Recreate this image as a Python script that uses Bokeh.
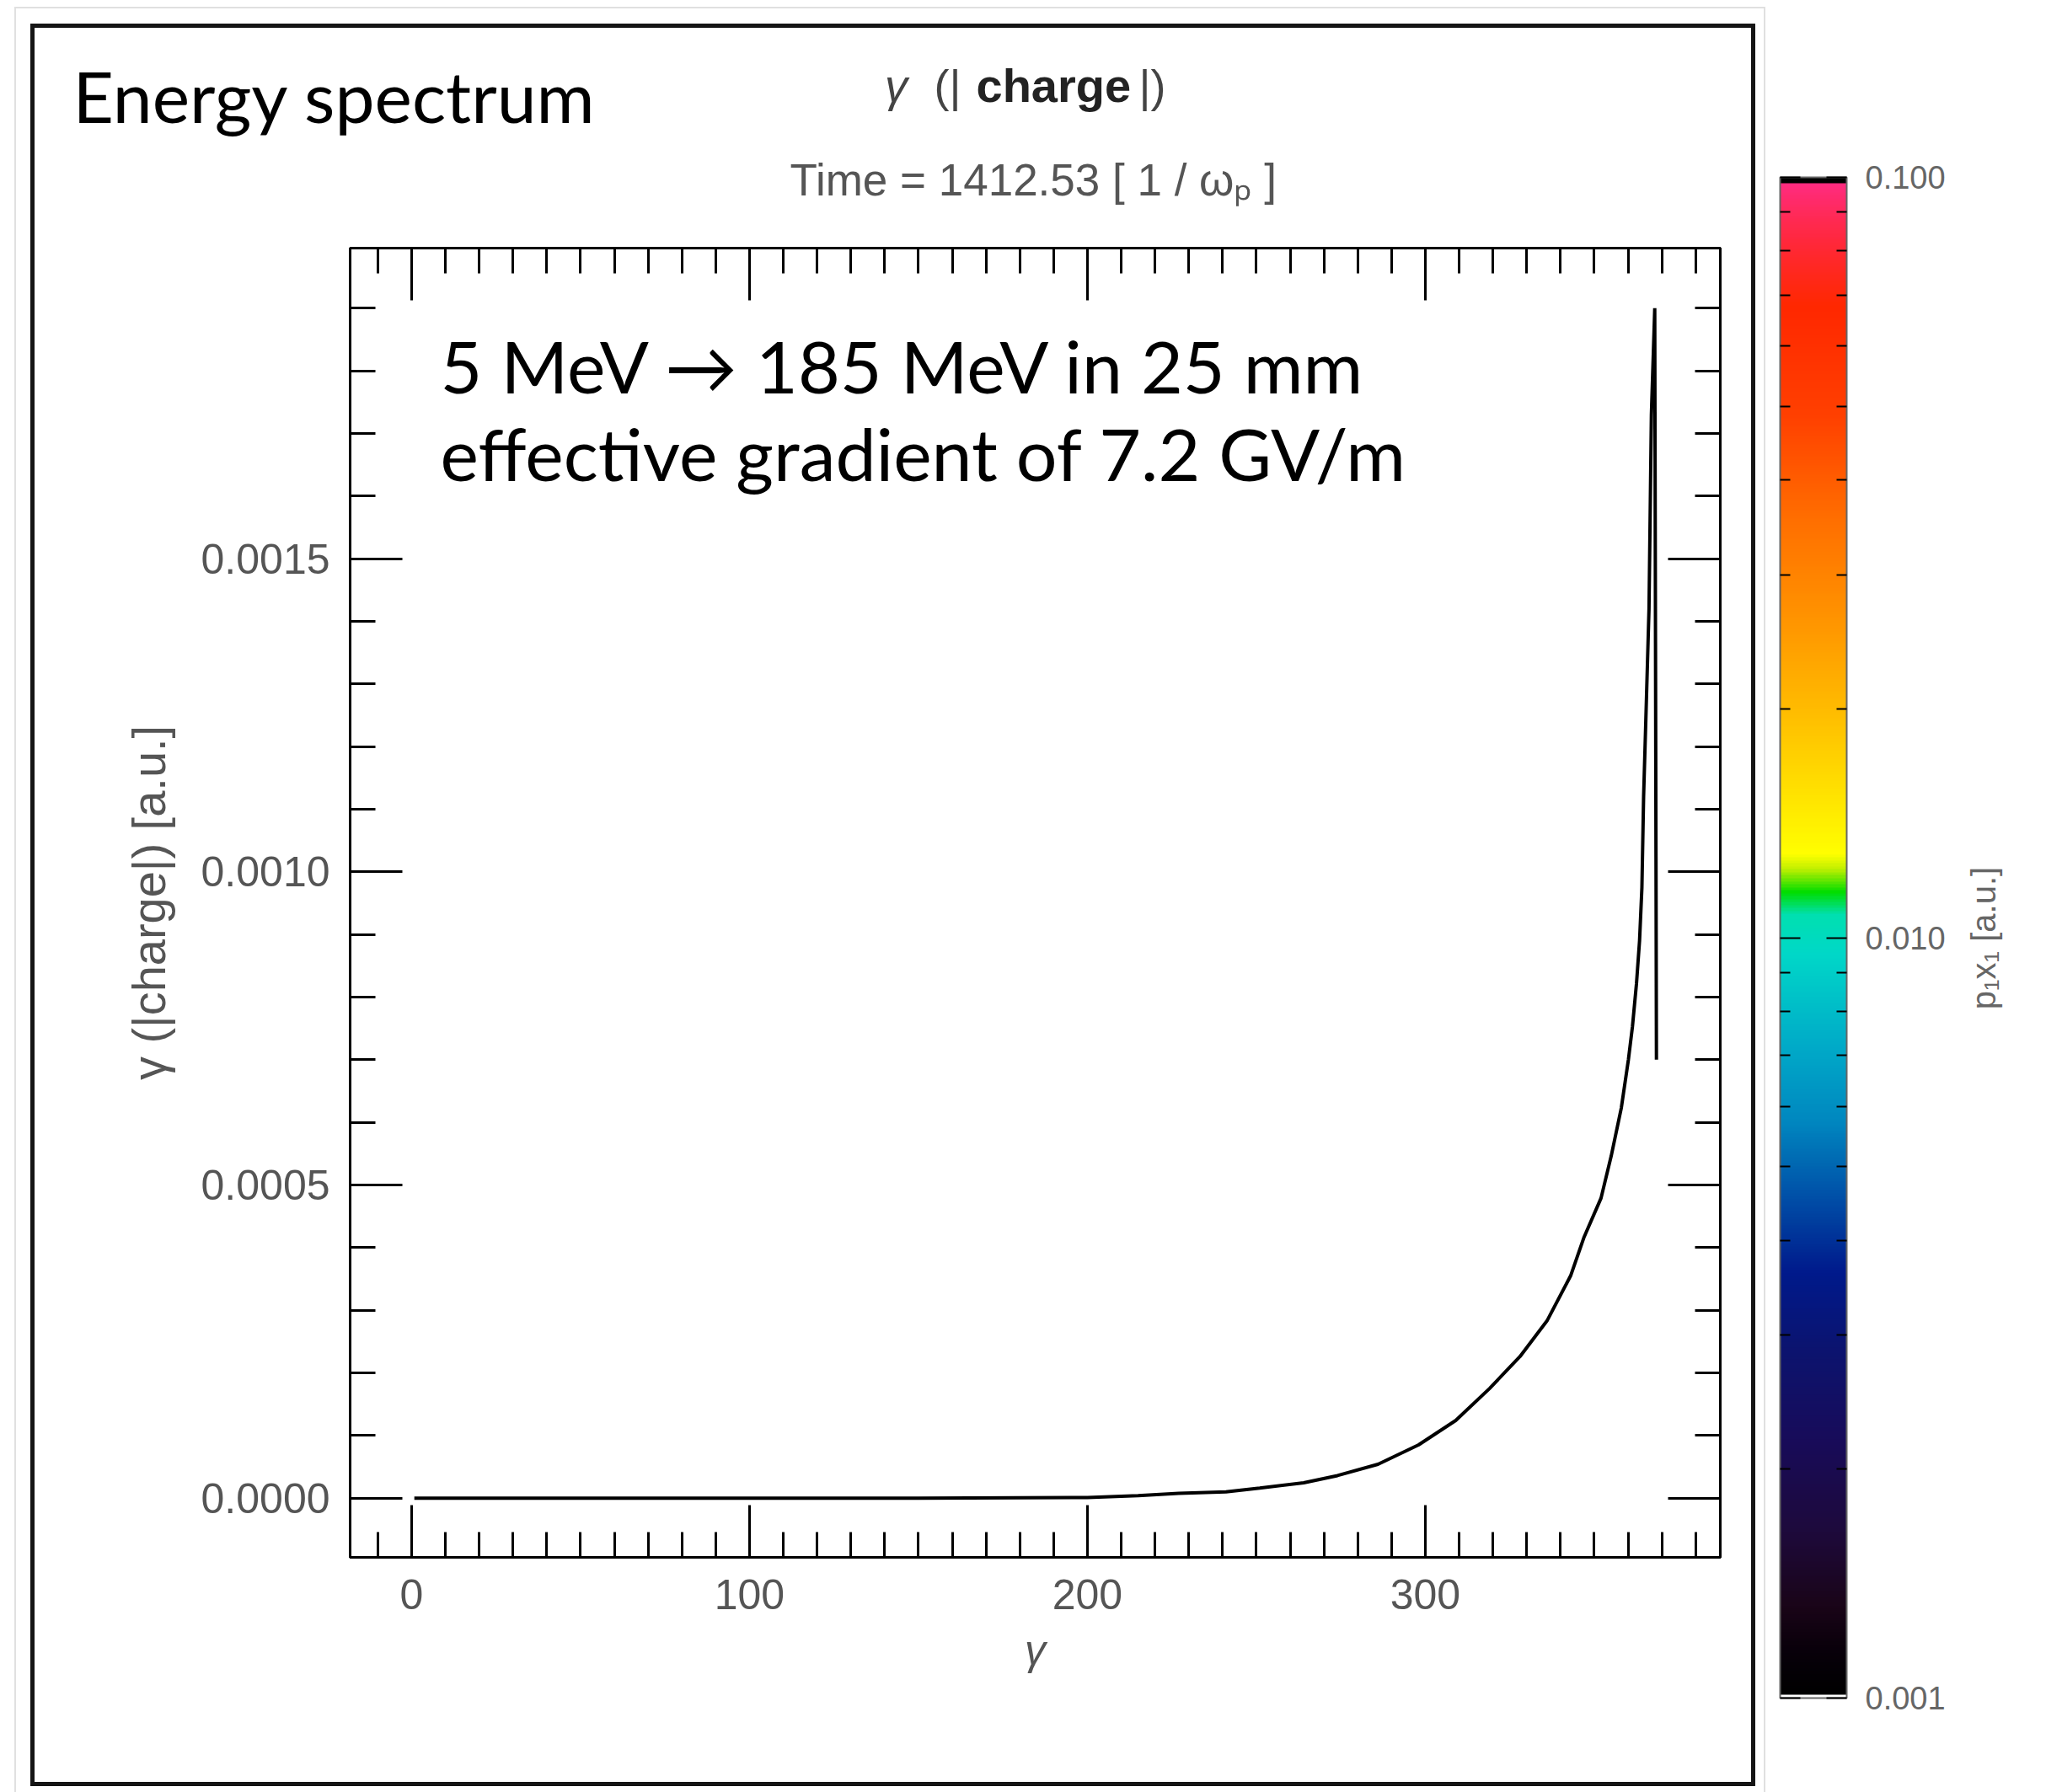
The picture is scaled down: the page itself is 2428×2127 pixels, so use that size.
import numpy as np
from bokeh.plotting import figure
from bokeh.models import (Range1d, FixedTicker, PrintfTickFormatter, LinearAxis,
                          Label, ColorBar, LogColorMapper)
from bokeh.embed import file_html
from bokeh.resources import INLINE

# ---------------- data ----------------
gamma = [0.8, 50, 100, 150, 200, 215, 227, 241, 251, 264, 274, 286, 298, 309,
         319, 328, 336, 343, 347, 352, 355, 358, 360.1, 361.3, 362.5, 363.4,
         364.1, 364.6, 365.3, 366.2, 366.9, 367.9, 368.4]
charge = [0.0, 0.0, 0.0, 0.0, 0.000001, 0.000004, 0.0000077, 0.00001, 0.000016,
          0.0000245, 0.000036, 0.000054, 0.000085, 0.000124, 0.000175, 0.000226,
          0.000283, 0.000355, 0.000417, 0.000479, 0.000546, 0.000623, 0.0007,
          0.000753, 0.000822, 0.00089, 0.000975, 0.00112, 0.00125, 0.00142,
          0.00173, 0.0019, 0.0007]

x_major = [0, 100, 200, 300]
x_minor = [v for v in range(-10, 390, 10) if v % 100 != 0]
y_major = [0.0, 0.0005, 0.0010, 0.0015]
y_minor = [round(k * 0.0001, 4) for k in range(1, 20) if k % 5 != 0]

cbar_low, cbar_high = 0.001, 0.1
cbar_major = [0.001, 0.01, 0.1]
cbar_minor = [m * d for d in (0.001, 0.01) for m in range(2, 10)]

title_parts = ["γ", "(|", "charge", "|)"]
time_text = "Time =  1412.53 [ 1 / ωₚ ]"
headline = "Energy spectrum"
note1 = "5 MeV → 185 MeV in 25 mm"
note2 = "effective gradient of 7.2 GV/m"
cbar_title = "p₁x₁ [a.u.]"

# colour table stops (fraction from bottom, colour)
stops = [(0.00, "#000000"), (0.03, "#08000a"), (0.06, "#1a0518"), (0.11, "#1e0a3c"),
         (0.17, "#180c5a"), (0.23, "#0c1470"), (0.28, "#001a8c"), (0.33, "#0050a8"),
         (0.38, "#0088c0"), (0.425, "#00a8c8"), (0.49, "#00d8c8"), (0.515, "#00e0b0"),
         (0.53, "#00dd00"), (0.545, "#c0f000"), (0.555, "#ffff00"), (0.632, "#ffc800"),
         (0.703, "#ff9800"), (0.773, "#ff7000"), (0.844, "#ff4000"), (0.915, "#ff2800"),
         (0.95, "#ff2830"), (0.975, "#ff2a58"), (1.00, "#ff2c88")]

# ---------------- layout constants ----------------
W, H = 2428, 2127
FL, FR, FT, FB = 415, 2041, 294, 1848
TICK_FONT = "Liberation Sans"

# slide frame (drawn as CSS background lines behind the transparent canvas)
box_lines = [  # (x, y, w, h, colour)
    (17, 8, 2, 2119, "#e0e0e0"), (17, 8, 2078, 2, "#e0e0e0"), (2093, 8, 2, 2119, "#e0e0e0"),
    (36, 28, 2047, 5, "#151515"), (36, 2115, 2047, 5, "#151515"),
    (36, 28, 5, 2092, "#151515"), (2078, 28, 5, 2092, "#151515"),
]
css = {
    "background-image": ", ".join("linear-gradient(%s, %s)" % (c, c) for *_, c in box_lines),
    "background-size": ", ".join("%dpx %dpx" % (w, h) for _, _, w, h, _ in box_lines),
    "background-position": ", ".join("%dpx %dpx" % (x, y) for x, y, _, _, _ in box_lines),
    "background-repeat": "no-repeat",
    "background-color": "white",
}

p = figure(width=W, height=H, x_range=Range1d(-18.2, 387.3),
           y_range=Range1d(-0.0000946, 0.001996), output_backend="svg",
           toolbar_location=None, min_border_left=FL, min_border_right=W - FR,
           min_border_top=FT, min_border_bottom=H - FB)
p.styles = css
p.xgrid.visible = False
p.ygrid.visible = False
p.background_fill_color = "white"
p.border_fill_color = None
p.outline_line_color = "black"
p.outline_line_width = 3


def style_axis(ax, major, minor, labels=True, fmt=None, size="50px", standoff=26):
    ax.ticker = FixedTicker(ticks=major, minor_ticks=minor)
    ax.major_tick_in = 62
    ax.major_tick_out = 0
    ax.minor_tick_in = 30
    ax.minor_tick_out = 0
    ax.major_tick_line_width = 3
    ax.minor_tick_line_width = 3
    ax.major_tick_line_color = "black"
    ax.minor_tick_line_color = "black"
    ax.axis_line_width = 3
    ax.axis_line_color = "black"
    if fmt is not None:
        ax.formatter = fmt
    if labels:
        ax.major_label_text_font = TICK_FONT
        ax.major_label_text_font_size = size
        ax.major_label_text_color = "#555555"
        ax.major_label_standoff = standoff
    else:
        ax.major_label_text_font_size = "1px"
        ax.major_label_text_color = None
        ax.major_label_standoff = 0


xa = p.xaxis[0]
style_axis(xa, x_major, x_minor, fmt=PrintfTickFormatter(format="%d"), standoff=26)
xa.axis_label = "γ"
xa.axis_label_text_font = TICK_FONT
xa.axis_label_text_font_style = "italic"
xa.axis_label_text_font_size = "50px"
xa.axis_label_text_color = "#555555"
xa.axis_label_standoff = 18

ya = p.yaxis[0]
style_axis(ya, y_major, y_minor, fmt=PrintfTickFormatter(format="%.4f"), standoff=24)
ya.axis_label = "γ (|charge|) [a.u.]"
ya.axis_label_text_font = TICK_FONT
ya.axis_label_text_font_style = "normal"
ya.axis_label_text_font_size = "56px"
ya.axis_label_text_color = "#555555"
ya.axis_label_standoff = 28

top_ax = LinearAxis()
style_axis(top_ax, x_major, x_minor, labels=False)
p.add_layout(top_ax, "above")
right_ax = LinearAxis()
style_axis(right_ax, y_major, y_minor, labels=False)
p.add_layout(right_ax, "right")

p.line(gamma, charge, line_color="black", line_width=4)


def mk_label(text, X, Y, size, font=TICK_FONT, style="normal", color="black",
             align="left", baseline="alphabetic", angle=0.0):
    px = float(size.replace("px", ""))
    if baseline == "alphabetic":
        Y = Y - 0.38 * px  # renderer places the alphabetic baseline lower
    common = dict(text=text, text_font=font, text_font_size=size, text_font_style=style,
                  text_color=color, text_align=align, text_baseline=baseline, angle=angle)
    try:
        return Label(x=X, y=Y, x_units="canvas", y_units="canvas", **common)
    except Exception:
        return Label(x=X - FL, y=FB - Y, x_units="screen", y_units="screen", **common)


# texts above the frame (side panels, so they are not clipped)
p.add_layout(mk_label(headline, 86, 145, "84px", font="Lato"), "above")
p.add_layout(mk_label(title_parts[2], 1158, 122, "56px", style="bold", color="#222222"), "above")
p.add_layout(mk_label(time_text, 937, 233, "53px", color="#555555"), "above")
p.add_layout(mk_label(title_parts[0], 1063, 122, "54px", style="italic", color="#444444",
                      align="center"), "left")
p.add_layout(mk_label(title_parts[1], 1108, 122, "54px", color="#444444"), "left")

# notes inside the frame
p.add_layout(mk_label(note1, 522, 466, "86px", font="Lato"))
p.add_layout(mk_label(note2, 522, 570, "86px", font="Lato"))

# ---------------- colour bar ----------------
n = 512
mids = (np.arange(n) + 0.5) / n
st_t = [s[0] for s in stops]
rgb = np.array([[int(c[1:3], 16), int(c[3:5], 16), int(c[5:7], 16)] for _, c in stops])
cols = []
for i, t in enumerate(mids):
    if i == 0:
        cols.append("#ffffff")
    elif i >= n - 2:
        cols.append("#000000")
    else:
        cols.append("#%02x%02x%02x" % tuple(int(np.interp(t, st_t, rgb[:, k])) for k in range(3)))

mapper = LogColorMapper(palette=cols, low=cbar_low, high=cbar_high)
CB_LEFT, CB_TOP, CB_BOTTOM, CB_W = 2113, 210, 2015, 79
SLOT0 = FR + 1            # left edge of the first colour-bar slot (after mirrored axis)
TICK_OFF = CB_LEFT - 1 - SLOT0   # tick-only bar sits just left of the colour bar
TICK_SLOT = TICK_OFF + 1 + 24    # its slot width: offset + bar + outward ticks
cb_ticker = FixedTicker(ticks=cbar_major, minor_ticks=cbar_minor)

# tick-only bar: draws the inward ticks on the left edge of the colour bar
cb_left_ticks = ColorBar(color_mapper=mapper, orientation="vertical", width=1,
                         height=CB_BOTTOM - CB_TOP, scale_alpha=0.0,
                         location=(TICK_OFF, FB - CB_BOTTOM),
                         padding=0, margin=0, ticker=cb_ticker,
                         major_label_text_font_size="1px", major_label_text_color=None,
                         label_standoff=0, major_tick_in=0, major_tick_out=24,
                         minor_tick_in=0, minor_tick_out=12,
                         major_tick_line_color="black", minor_tick_line_color="black",
                         major_tick_line_width=2, minor_tick_line_width=2,
                         bar_line_color=None, border_line_color=None,
                         background_fill_color=None, level="overlay")
p.add_layout(cb_left_ticks, "right")

cb = ColorBar(color_mapper=mapper, orientation="vertical", width=CB_W,
              height=CB_BOTTOM - CB_TOP,
              location=(CB_LEFT - (SLOT0 + TICK_SLOT), FB - CB_BOTTOM),
              padding=0, margin=0, ticker=cb_ticker,
              formatter=PrintfTickFormatter(format="%.3f"),
              major_label_text_font=TICK_FONT, major_label_text_font_size="38px",
              major_label_text_color="#666666", label_standoff=22,
              major_tick_in=24, major_tick_out=0, minor_tick_in=12, minor_tick_out=0,
              major_tick_line_color="black", minor_tick_line_color="black",
              major_tick_line_width=2, minor_tick_line_width=2,
              bar_line_color="#666666", bar_line_width=2,
              border_line_color=None, background_fill_color=None)
p.add_layout(cb, "right")
p.add_layout(mk_label(title_parts[3], 1351, 122, "54px", color="#444444"), "right")
p.add_layout(mk_label(cbar_title, 2353, 1113, "40px", color="#666666", align="center",
                      baseline="middle", angle=np.pi / 2), "right")

open("out.html", "w").write(file_html(p, INLINE))
